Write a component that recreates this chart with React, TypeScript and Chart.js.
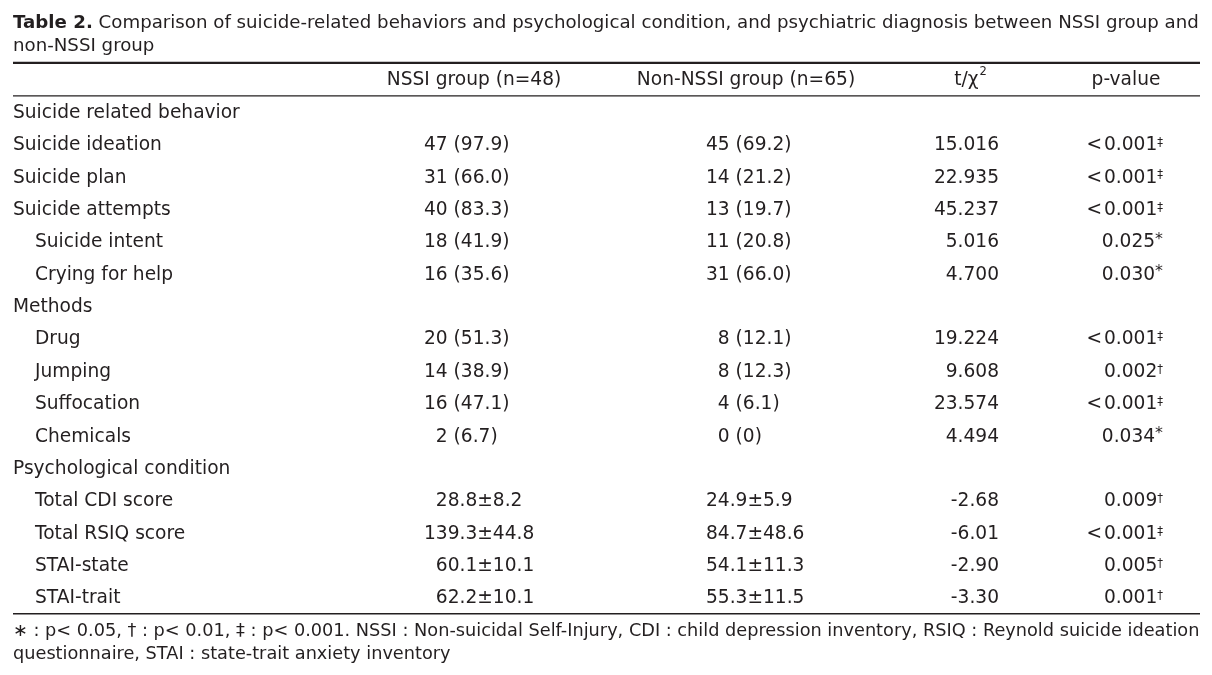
import React, { useEffect, useRef } from "react";
import { Chart, registerables } from "chart.js";

Chart.register(...registerables);

// ---------- data ----------
const titleBold = "Table 2.";
const titleLine1 =
  " Comparison of suicide-related behaviors and psychological condition, and psychiatric diagnosis between NSSI group and";
const titleLine2 = "non-NSSI group";

const columnHeaders = ["NSSI group (n=48)", "Non-NSSI group (n=65)", "t/χ", "p-value"];
const headerSuperscript = "2";

const rowLabels = [
  "Suicide related behavior",
  "Suicide ideation",
  "Suicide plan",
  "Suicide attempts",
  "Suicide intent",
  "Crying for help",
  "Methods",
  "Drug",
  "Jumping",
  "Suffocation",
  "Chemicals",
  "Psychological condition",
  "Total CDI score",
  "Total RSIQ score",
  "STAI-state",
  "STAI-trait",
];
const rowIndent = [0, 0, 0, 0, 1, 1, 0, 1, 1, 1, 1, 0, 1, 1, 1, 1];

const nssiValues = [
  "", "47 (97.9)", "31 (66.0)", "40 (83.3)", "18 (41.9)", "16 (35.6)",
  "", "20 (51.3)", "14 (38.9)", "16 (47.1)", "2 (6.7)",
  "", "28.8±8.2", "139.3±44.8", "60.1±10.1", "62.2±10.1",
];
const nonNssiValues = [
  "", "45 (69.2)", "14 (21.2)", "13 (19.7)", "11 (20.8)", "31 (66.0)",
  "", "8 (12.1)", "8 (12.3)", "4 (6.1)", "0 (0)",
  "", "24.9±5.9", "84.7±48.6", "54.1±11.3", "55.3±11.5",
];
const testStats = [
  "", "15.016", "22.935", "45.237", "5.016", "4.700",
  "", "19.224", "9.608", "23.574", "4.494",
  "", "-2.68", "-6.01", "-2.90", "-3.30",
];
const pValues = [
  "", "<0.001", "<0.001", "<0.001", "0.025", "0.030",
  "", "<0.001", "0.002", "<0.001", "0.034",
  "", "0.009", "<0.001", "0.005", "0.001",
];
const pMarks = [
  "", "‡", "‡", "‡", "*", "*",
  "", "‡", "†", "‡", "*",
  "", "†", "‡", "†", "†",
];

const footnoteLine1 =
  "∗ : p< 0.05, † : p< 0.01, ‡ : p< 0.001. NSSI : Non-suicidal Self-Injury, CDI : child depression inventory, RSIQ : Reynold suicide ideation";
const footnoteLine2 = "questionnaire, STAI : state-trait anxiety inventory";

// ---------- layout (scale units: x = pixels across, y = row index) ----------
const X_LEFT = 13;
const X_RIGHT = 1200;
const X_INDENT = 35;
const X_NSSI = 424;
const X_NON = 706;
const X_T_RIGHT = 999;
const X_P_RIGHT = 1163;
const HEADER_CENTERS = [474, 746, 970, 1126];
const Y_MIN = -3.46;
const Y_MAX = -3.46 + 675 / 32.37;
const TEXT_DY = 1;
const INK = "#231f20";
const FAMILY = '"DejaVu Sans", sans-serif';

const tablePlugin = {
  id: "tableText",
  afterDraw(chart: any) {
    const ctx: CanvasRenderingContext2D = chart.ctx;
    const xs = chart.scales.x;
    const ys = chart.scales.y;
    const X = (v: number) => xs.getPixelForValue(v);
    const Y = (v: number) => ys.getPixelForValue(v) + TEXT_DY;
    const font = (size: number, weight = "normal") => `${weight} ${size}px ${FAMILY}`;
    const width = (t: string, f: string) => {
      ctx.font = f;
      return ctx.measureText(t).width;
    };

    ctx.save();
    ctx.fillStyle = INK;
    ctx.strokeStyle = INK;
    ctx.textBaseline = "middle";

    // title
    const span = X(X_RIGHT) - X(X_LEFT);
    const tb = width(titleBold, font(100, "bold"));
    const tr = width(titleLine1, font(100));
    const ts = (100 * span) / (tb + tr);
    ctx.textAlign = "left";
    ctx.font = font(ts, "bold");
    ctx.fillText(titleBold, X(X_LEFT), Y(-2.78));
    const bw = ctx.measureText(titleBold).width;
    ctx.font = font(ts);
    ctx.fillText(titleLine1, X(X_LEFT) + bw, Y(-2.78));
    ctx.fillText(titleLine2, X(X_LEFT), Y(-2.06));

    // rules
    const rule = (row: number, lw: number) => {
      const y = ys.getPixelForValue(row);
      ctx.lineWidth = lw;
      ctx.beginPath();
      ctx.moveTo(X(X_LEFT), y);
      ctx.lineTo(X(X_RIGHT), y);
      ctx.stroke();
    };
    rule(-1.52, 2.2);
    rule(-0.5, 1.3);
    rule(15.5, 1.3);

    // body font size
    const bs = (100 * 227) / width(rowLabels[0], font(100));
    const bodyFont = font(bs);
    const smallFont = font(bs * 0.62);

    // headers
    ctx.font = bodyFont;
    ctx.textAlign = "center";
    columnHeaders.forEach((h, i) => {
      if (i === 2) {
        const w1 = width(h, bodyFont);
        const w2 = width(headerSuperscript, smallFont);
        const start = X(HEADER_CENTERS[i]) - (w1 + w2) / 2;
        ctx.textAlign = "left";
        ctx.font = bodyFont;
        ctx.fillText(h, start, Y(-1));
        ctx.font = smallFont;
        ctx.fillText(headerSuperscript, start + w1 + 1, Y(-1) - bs * 0.45);
        ctx.textAlign = "center";
        ctx.font = bodyFont;
      } else {
        ctx.fillText(h, X(HEADER_CENTERS[i]), Y(-1));
      }
    });

    // row labels
    ctx.textAlign = "left";
    ctx.font = bodyFont;
    rowLabels.forEach((lab, i) => {
      ctx.fillText(lab, X(rowIndent[i] ? X_INDENT : X_LEFT), Y(i));
    });

    // numeric columns with integer alignment
    const digitW = width("0", bodyFont);
    const drawAligned = (vals: string[], left: number) => {
      const intDigits = (s: string) => (s.match(/^\d+/) || [""])[0].length;
      const maxFor = (mean: boolean) =>
        Math.max(...vals.filter((v) => v && v.includes("±") === mean).map(intDigits));
      const maxMean = maxFor(true);
      const maxCount = maxFor(false);
      ctx.textAlign = "left";
      ctx.font = bodyFont;
      vals.forEach((v, i) => {
        if (!v) return;
        const m = v.includes("±") ? maxMean : maxCount;
        ctx.fillText(v, X(left) + (m - intDigits(v)) * digitW, Y(i));
      });
    };
    drawAligned(nssiValues, X_NSSI);
    drawAligned(nonNssiValues, X_NON);

    // test statistic
    ctx.textAlign = "right";
    ctx.font = bodyFont;
    testStats.forEach((v, i) => {
      if (v) ctx.fillText(v, X(X_T_RIGHT), Y(i));
    });

    // p-values with marks
    pValues.forEach((v, i) => {
      if (!v) return;
      const mark = pMarks[i];
      const markFont = mark === "*" ? font(bs * 0.85) : smallFont;
      const mw = width(mark, markFont);
      ctx.textAlign = "right";
      ctx.font = markFont;
      ctx.fillText(mark, X(X_P_RIGHT), Y(i) - (mark === "*" ? bs * 0.15 : bs * 0.12));
      ctx.font = bodyFont;
      ctx.fillText(v.replace("<", "<\u200a"), X(X_P_RIGHT) - mw, Y(i));
    });

    // footnote
    const fs = (100 * span) / width(footnoteLine1, font(100));
    ctx.textAlign = "left";
    ctx.font = font(fs);
    ctx.fillText(footnoteLine1, X(X_LEFT), Y(16.0));
    ctx.fillText(footnoteLine2, X(X_LEFT), Y(16.72));

    ctx.restore();
  },
};

export default function App() {
  const ref = useRef<HTMLCanvasElement | null>(null);
  useEffect(() => {
    document.body.style.margin = "0";
    document.body.style.background = "#ffffff";
    if (!ref.current) return;
    const chart = new Chart(ref.current, {
      type: "scatter",
      data: { datasets: [{ data: [], pointRadius: 0 }] },
      options: {
        responsive: false,
        animation: false,
        devicePixelRatio: 1,
        layout: { padding: 0 },
        plugins: { legend: { display: false }, tooltip: { enabled: false }, title: { display: false } },
        scales: {
          x: { type: "linear", min: 0, max: 1212, display: false },
          y: { type: "linear", min: Y_MIN, max: Y_MAX, reverse: true, display: false },
        },
      },
      plugins: [tablePlugin],
    });
    return () => chart.destroy();
  }, []);
  return (
    <div style={{ width: 1212, height: 675, background: "#fff" }}>
      <canvas ref={ref} width={1212} height={675} style={{ display: "block" }} />
    </div>
  );
}
